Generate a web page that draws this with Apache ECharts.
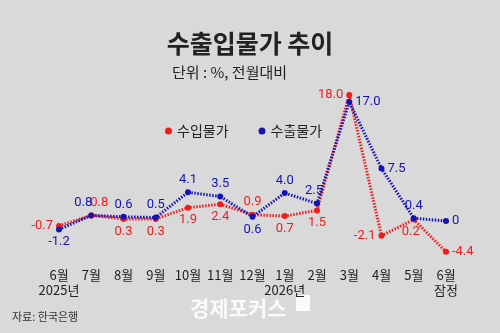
<!DOCTYPE html>
<html>
<head>
<meta charset="utf-8">
<title>수출입물가 추이</title>
<script src="https://cdn.jsdelivr.net/npm/echarts@6/dist/echarts.min.js"></script>
<style>
    html, body { margin: 0; padding: 0; background: #d9d9d9; }
    #chart { width: 500px; height: 333px; }
</style>
</head>
<body>
<div id="chart"></div>
<script>
// 데이터
var months = ['6월\n2025년', '7월', '8월', '9월', '10월', '11월', '12월', '1월\n2026년', '2월', '3월', '4월', '5월', '6월\n잠정'];
var importPrice = [-0.7, 0.8, 0.3, 0.3, 1.9, 2.4, 0.9, 0.7, 1.5, 18.0, -2.1, 0.2, -4.4];
var exportPrice = [-1.2, 0.8, 0.6, 0.5, 4.1, 3.5, 0.6, 4.0, 2.5, 17.0, 7.5, 0.4, 0];

// 라벨 위치 (스타일)
var importPos = ['left', 'top', 'bottom', 'bottom', 'bottom', 'bottom', 'top', 'bottom', 'bottom', 'left', 'left', 'bottom', 'right'];
var exportPos = ['bottom', 'top', 'top', 'top', 'top', 'top', 'bottom', 'top', 'top', 'right', 'right', 'top', 'right'];
var importShift = [0, 8, 0, 0, 0, 0, 0, 0, 0, 0, 0, -3, 0];
var exportShift = [0, -8, 0, 0, 0, 0, 0, 0, -3, 0, 0, 0, 0];

var FONT = '"Noto Sans CJK KR", "Noto Sans", sans-serif';
var NUM_FONT = 'Roboto, "Noto Sans CJK KR", sans-serif';
var RED = '#f01c1c';
var BLUE = '#1414b4';

function fmt(v) {
    return v === 0 ? '0' : v.toFixed(1);
}

function build(values, pos, shift) {
    return values.map(function (v, i) {
        return { value: v, label: { position: pos[i], offset: [shift[i], 0] } };
    });
}

var chart = echarts.init(document.getElementById('chart'));

var option = {
    backgroundColor: '#d9d9d9',
    textStyle: { fontFamily: FONT },
    title: [
        {
            text: '수출입물가 추이',
            left: 'center',
            top: 26,
            textStyle: { fontFamily: FONT, fontSize: 25, fontWeight: 'bold', color: '#222' }
        },
        {
            text: '단위 : %, 전월대비',
            left: 167,
            top: 60,
            textStyle: { fontFamily: FONT, fontSize: 15, fontWeight: 'normal', color: '#222' }
        }
    ],
    legend: {
        left: 160,
        top: 119,
        icon: 'circle',
        itemWidth: 7,
        itemHeight: 7,
        itemGap: 30,
        textStyle: { fontFamily: FONT, fontSize: 14, color: '#222' },
        data: ['수입물가', '수출물가']
    },
    grid: {
        left: 59,
        right: 54,
        top: 81,
        bottom: 77
    },
    xAxis: {
        type: 'category',
        boundaryGap: false,
        data: months,
        axisLine: { show: false },
        axisTick: { show: false },
        axisLabel: {
            interval: 0,
            margin: 12,
            fontFamily: FONT,
            fontSize: 13,
            lineHeight: 15,
            color: '#222'
        }
    },
    yAxis: {
        type: 'value',
        min: -5,
        max: 20,
        show: false
    },
    series: [
        {
            name: '수입물가',
            type: 'line',
            data: build(importPrice, importPos, importShift),
            color: RED,
            symbol: 'circle',
            symbolSize: 6,
            lineStyle: { width: 3, type: [1.5, 1.5], color: RED },
            label: {
                show: true,
                color: RED,
                fontSize: 13,
                fontFamily: NUM_FONT,
                distance: 3,
                formatter: function (p) { return fmt(p.value); }
            }
        },
        {
            name: '수출물가',
            type: 'line',
            data: build(exportPrice, exportPos, exportShift),
            color: BLUE,
            symbol: 'circle',
            symbolSize: 6,
            lineStyle: { width: 3, type: [1.5, 1.5], color: BLUE },
            label: {
                show: true,
                color: BLUE,
                fontSize: 13,
                fontFamily: NUM_FONT,
                distance: 3,
                formatter: function (p) { return fmt(p.value); }
            }
        }
    ],
    graphic: [
        {
            type: 'text',
            left: 12,
            top: 311,
            style: { text: '자료: 한국은행', font: '11px ' + FONT, fill: '#333' }
        },
        {
            type: 'text',
            left: 190,
            top: 298,
            style: { text: '경제포커스', font: 'bold 21px ' + FONT, fill: 'rgba(255,255,255,0.85)' }
        },
        {
            type: 'rect',
            left: 296,
            top: 295,
            shape: { width: 14, height: 16 },
            style: { fill: 'rgba(255,255,255,0.85)' }
        }
    ]
};

chart.setOption(option);
window.onresize = function () {
    chart.resize();
};
</script>
</body>
</html>
